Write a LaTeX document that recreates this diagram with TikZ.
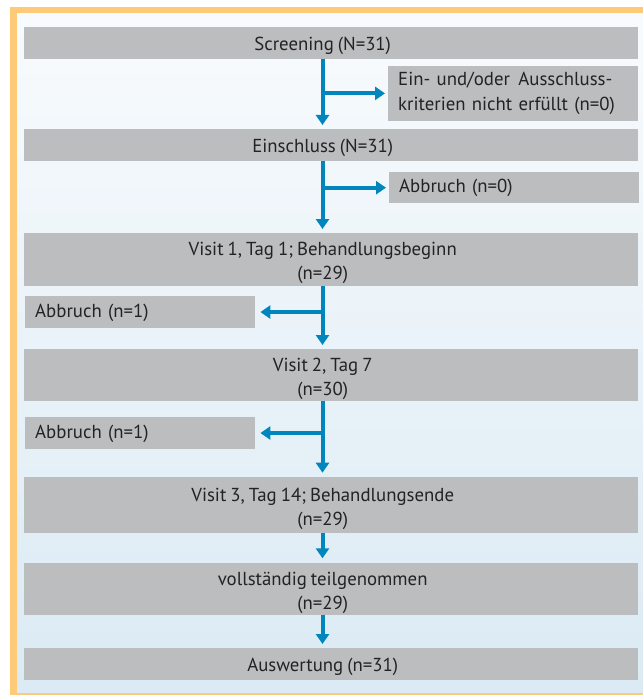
\documentclass[tikz,border=0pt]{standalone}
\usepackage{fontspec}
\setmainfont[WordSpace=0.8]{PT Sans}
\usetikzlibrary{arrows.meta,calc}
\definecolor{boxgray}{RGB}{188,189,191}
\definecolor{arrowblue}{RGB}{0,134,188}
\definecolor{frameorange}{RGB}{255,202,120}
\definecolor{bgtop}{RGB}{248,251,253}
\definecolor{bgbottom}{RGB}{219,234,244}
\definecolor{txt}{RGB}{35,35,35}
\begin{document}
\begin{tikzpicture}[x=1pt,y=-1pt,
  mainbox/.style={fill=boxgray, minimum width=614pt, inner sep=0pt, anchor=north west},
  mtext/.style={font=\fontsize{18.8}{24}\selectfont, text=txt, align=center, inner sep=0pt, xshift=-8.5pt},
  one/.style={mtext, yshift=-2.2pt},
  two/.style={mtext, yshift=-3.7pt},
  sidebox/.style={fill=boxgray, minimum width=250pt, text width=230pt, inner xsep=10pt, inner ysep=0pt,
     align=left, anchor=north west, text=txt, font=\fontsize{18.8}{25}\selectfont},
  leftbox/.style={sidebox, minimum width=230pt, text width=210pt},
  conn/.style={draw=arrowblue, line width=4pt, -{Triangle[length=10pt,width=13pt]}, shorten >=4pt},
  branch/.style={conn, shorten >=3pt}
]
\useasboundingbox (0,0) rectangle (643,695);
\fill[frameorange] (10,6.7) rectangle (643,695);
\shade[top color=bgtop, bottom color=bgbottom] (17,14) rectangle (643,692);
\coordinate (spine) at (322.5,0);

\node[mainbox, minimum height=31.7pt, label={[one]center:{\strut Screening (N=31)}}] (scr) at (24,27) {};
\node[sidebox, minimum height=55pt] (side1) at (388,65.7) {\strut Ein- und/oder\hspace{0.45em}Ausschluss-\\\strut kriterien nicht erfüllt (n=0)};
\node[mainbox, minimum height=31.7pt, label={[one]center:{\strut Einschluss (N=31)}}] (ein) at (24,129) {};
\node[sidebox, minimum height=31pt] (abb0) at (389,172) {\strut Abbruch (n=0)};
\node[mainbox, minimum height=52.5pt, label={[two]center:{\strut Visit 1, Tag 1; Behandlungsbeginn\\\strut (n=29)}}] (v1) at (24,233) {};
\node[leftbox, minimum height=31.7pt] (abb1) at (25,296) {\strut Abbruch (n=1)};
\node[mainbox, minimum height=51.5pt, label={[two]center:{\strut Visit 2, Tag 7\\\strut (n=30)}}] (v2) at (24,349) {};
\node[leftbox, minimum height=31.7pt] (abb2) at (25,417) {\strut Abbruch (n=1)};
\node[mainbox, minimum height=55.8pt, label={[two]center:{\strut Visit 3, Tag 14; Behandlungsende\\\strut (n=29)}}] (v3) at (24,476.7) {};
\node[mainbox, minimum height=52.5pt, label={[two]center:{\strut vollständig teilgenommen\\\strut (n=29)}}] (voll) at (24,562.3) {};
\node[mainbox, minimum height=32pt, label={[one]center:{\strut Auswertung (n=31)}}] (ausw) at (24,648) {};

\draw[conn] (scr.south -| spine) -- (ein.north -| spine);
\draw[branch] (spine |- side1.west) -- (side1.west);
\draw[conn] (ein.south -| spine) -- (v1.north -| spine);
\draw[branch] (spine |- abb0.west) -- (abb0.west);
\draw[conn] (v1.south -| spine) -- (v2.north -| spine);
\draw[branch, shorten >=5pt] (spine |- abb1.east) -- (abb1.east);
\draw[conn] (v2.south -| spine) -- (v3.north -| spine);
\draw[branch, shorten >=5pt] (spine |- abb2.east) -- (abb2.east);
\draw[conn] (v3.south -| spine) -- (voll.north -| spine);
\draw[conn] (voll.south -| spine) -- (ausw.north -| spine);
\end{tikzpicture}
\end{document}
